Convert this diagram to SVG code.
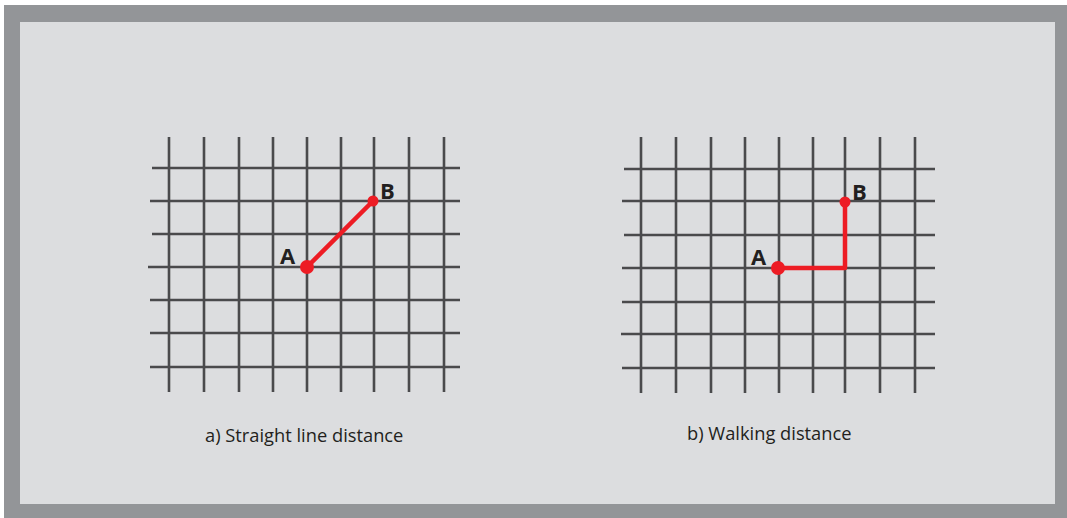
<svg xmlns="http://www.w3.org/2000/svg" width="1067" height="518" viewBox="0 0 1067 518">
<style>
.g{stroke:#4a4a4c;stroke-width:2.6;fill:none}
.r{stroke:#ed1c24;stroke-width:4.5;fill:none;stroke-linejoin:round;stroke-linecap:round}
.d{fill:#ed1c24}
.pt{font-family:"Open Sans",sans-serif;font-weight:bold;font-size:22px;fill:#231f20}
.cap{font-family:"Open Sans",sans-serif;font-size:18.3px;fill:#231f20}
</style>
<rect x="0" y="0" width="1067" height="518" fill="#ffffff"/>
<rect x="4" y="5" width="1063" height="513" fill="#939598"/>
<rect x="20" y="22" width="1035" height="482" fill="#dcdddf"/>
<g id="gridA">
<path class="g" d="M169 137V392M204 137V392M239 137V392M273 137V392M307 137V392M341 137V392M374 137V392M409 137V392M444 137V392"/>
<path class="g" d="M152 168H460M150 201H460M152 234H460M148 267H460M150 300H460M150 333H460M150 367H460"/>
</g>
<g id="gridB">
<path class="g" d="M641 137V393M676 137V393M711 137V393M745 137V393M779 137V393M813 137V393M845 137V393M880 137V393M915 137V393"/>
<path class="g" d="M624 169H935M622 201H935M624 235H935M622 268H935M622 302H935M621 334H935M622 368H935"/>
</g>
<g id="connectors">
<path class="r" d="M307 267L373 201"/>
<path class="r" d="M778 268H845V202"/>
</g>
<g id="nodeA1"><circle class="d" cx="307" cy="267" r="7"/><text class="pt" x="280" y="264">A</text></g>
<g id="nodeB1"><circle class="d" cx="373" cy="201" r="5.5"/><text class="pt" x="380" y="199">B</text></g>
<g id="nodeA2"><circle class="d" cx="778" cy="268" r="7"/><text class="pt" x="751" y="265">A</text></g>
<g id="nodeB2"><circle class="d" cx="845" cy="202" r="5.5"/><text class="pt" x="852" y="200">B</text></g>
<g id="captions">
<text class="cap" x="205" y="442">a) Straight line distance</text>
<text class="cap" x="687" y="440">b) Walking distance</text>
</g>
</svg>
